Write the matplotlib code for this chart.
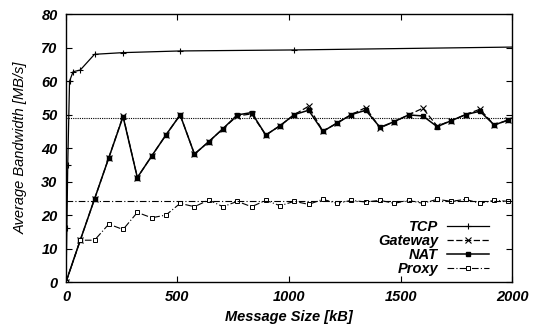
import matplotlib
matplotlib.use("Agg")
import matplotlib.pyplot as plt

# message sizes (kB) for the sampled runs
sizes = [0, 64, 128, 192, 256, 320, 384, 448, 512, 576, 640, 704, 768, 832, 896, 960,
         1024, 1088, 1152, 1216, 1280, 1344, 1408, 1472, 1536, 1600, 1664, 1728, 1792,
         1856, 1920, 1984]

tcp_sizes = [0, 4, 8, 16, 32, 64, 128, 256, 512, 1024, 2048]
tcp_bw = [0, 16.0, 35.0, 60.0, 62.8, 63.3, 68.0, 68.5, 69.0, 69.3, 70.2]

nat_bw = [0, 12.5, 24.8, 37.1, 49.4, 31.2, 37.6, 43.9, 49.9, 38.2, 41.9, 45.8, 49.9,
          50.6, 43.9, 46.7, 50.0, 51.3, 45.0, 47.5, 50.0, 51.3, 46.2, 47.9, 49.9, 49.6,
          46.4, 48.2, 50.0, 51.0, 46.9, 48.4]
gateway_bw = [0, 12.5, 24.8, 37.1, 49.6, 31.2, 37.6, 43.9, 49.9, 38.2, 41.9, 45.8, 49.6,
              50.2, 43.9, 46.7, 50.0, 52.5, 45.0, 47.5, 50.0, 52.1, 46.0, 47.9, 49.9, 51.9,
              46.6, 48.2, 50.0, 51.6, 46.9, 48.4]
proxy_bw = [0, 12.5, 12.5, 17.3, 15.7, 20.8, 19.2, 20.0, 23.5, 22.5, 24.5, 22.5, 24.1,
            22.5, 24.4, 22.8, 24.1, 23.2, 24.7, 23.5, 24.4, 23.9, 24.4, 23.5, 24.4, 23.5,
            24.7, 24.1, 24.7, 23.5, 24.4, 24.1]

# reference levels
nat_level = 48.9
proxy_level = 24.2

plt.rcParams['font.family'] = ['Liberation Sans', 'DejaVu Sans']

fig = plt.figure(figsize=(5.39, 3.28), dpi=100)
ax = fig.add_axes([0.1224, 0.140, 0.8276, 0.817])

ax.plot(tcp_sizes, tcp_bw, color='black', lw=0.9, marker='+', ms=5, mew=0.8, label='TCP')
ax.plot(sizes, gateway_bw, color='black', lw=0.9, ls=(0, (5, 2)), marker='x', ms=4,
        mew=0.8, label='Gateway')
ax.plot(sizes, nat_bw, color='black', lw=1.1, marker='s', ms=3, label='NAT')
ax.plot(sizes, proxy_bw, color='black', lw=0.8, ls=(0, (6, 2, 1, 2)), marker='s', ms=3.5,
        mfc='white', mew=0.7, label='Proxy')

ax.axhline(nat_level, color='black', lw=0.8, ls=(0, (1, 1)))
ax.axhline(proxy_level, color='black', lw=0.8, ls=(0, (6, 2, 1, 2)))

ax.set_xlim(0, 2000)
ax.set_ylim(0, 80)
ax.set_xticks(range(0, 2001, 500))
ax.set_yticks(range(0, 81, 10))
ax.tick_params(direction='in', top=True, right=True, labelsize=10.5, length=4, pad=6)
for lbl in ax.get_xticklabels() + ax.get_yticklabels():
    lbl.set_fontweight('bold')
    lbl.set_fontstyle('italic')
for s in ax.spines.values():
    s.set_linewidth(1.0)

ax.set_xlabel('Message Size [kB]', fontsize=10.5, fontweight='bold', style='italic',
              labelpad=4)
ax.set_ylabel('Average Bandwidth [MB/s]', fontsize=10.5, style='italic', labelpad=10)

leg = ax.legend(loc='lower right', frameon=False, markerfirst=False, fontsize=10.5,
                handlelength=2.9, labelspacing=0.0, borderaxespad=0.1, handletextpad=0.6,
                bbox_to_anchor=(0.965, -0.005))
for t in leg.get_texts():
    t.set_ha('right')
    t.set_fontweight('bold')
    t.set_fontstyle('italic')

fig.savefig('out.png', dpi=100)
